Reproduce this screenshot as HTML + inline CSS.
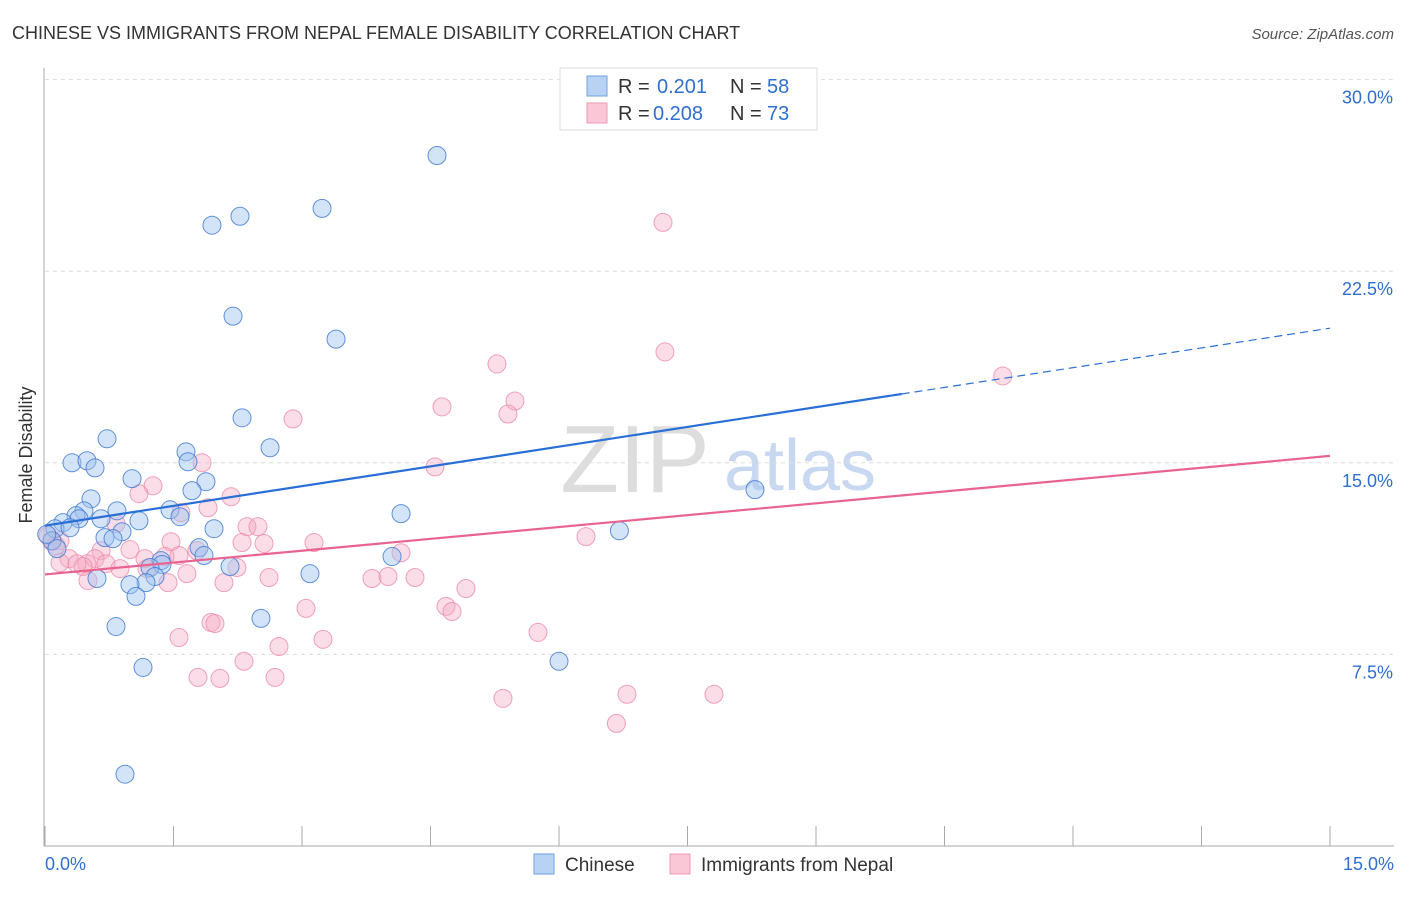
<!DOCTYPE html>
<html><head><meta charset="utf-8"><style>
body{margin:0;background:#fff;font-family:"Liberation Sans",sans-serif;}
svg text{font-family:"Liberation Sans",sans-serif;}
</style></head><body>
<svg id="chart" width="1406" height="892">
<text x="12" y="39" font-size="18" fill="#333">CHINESE VS IMMIGRANTS FROM NEPAL FEMALE DISABILITY CORRELATION CHART</text>
<text x="1394" y="39" font-size="15" fill="#555" font-style="italic" text-anchor="end">Source: ZipAtlas.com</text>
<text x="32" y="455" font-size="18" fill="#333" text-anchor="middle" transform="rotate(-90 32 455)">Female Disability</text>
<text x="635" y="492" font-size="96" fill="#ddd" font-family="Liberation Serif" text-anchor="middle">ZIP</text>
<text x="800" y="490" font-size="72" fill="#c8d8f0" text-anchor="middle">atlas</text>
<g id="grid"></g><g id="axes"></g><g id="pts"></g><g id="lines"></g>
<g>
<rect x="560" y="68" width="257" height="62" fill="#fff" stroke="#ddd"/>
<rect x="587" y="76" width="20" height="20" fill="#b8d2f4" stroke="#6fa0e0"/>
<rect x="587" y="103" width="20" height="20" fill="#f9c7d6" stroke="#ee9ab4"/>
<text x="618" y="93" font-size="20" fill="#333">R =</text>
<text x="657" y="93" font-size="20" fill="#2f6fd0">0.201</text>
<text x="730" y="93" font-size="20" fill="#333">N =</text>
<text x="767" y="93" font-size="20" fill="#2f6fd0">58</text>
<text x="618" y="120" font-size="20" fill="#333">R =</text>
<text x="653" y="120" font-size="20" fill="#2f6fd0">0.208</text>
<text x="730" y="120" font-size="20" fill="#333">N =</text>
<text x="767" y="120" font-size="20" fill="#2f6fd0">73</text>
</g>
<g>
<rect x="534" y="854" width="20" height="20" fill="#b8d2f4" stroke="#6fa0e0"/>
<text x="565" y="871" font-size="19" fill="#333">Chinese</text>
<rect x="670" y="854" width="20" height="20" fill="#f9c7d6" stroke="#ee9ab4"/>
<text x="701" y="871" font-size="19" fill="#333">Immigrants from Nepal</text>
</g>
</svg>
<script>
const yTicks=[7.5,15,22.5,30];
const yTickLabels=["7.5%","15.0%","22.5%","30.0%"];
const blueX=[4.576,3.234,2.276,1.949,2.195,3.397,2.300,0.724,1.646,2.627,0.315,0.490,0.584,1.669,1.016,1.879,1.716,0.537,0.840,1.459,1.576,0.455,0.362,0.210,0.397,0.654,1.097,0.117,0.292,0.899,1.973,0.700,0.794,0.082,0.140,1.798,1.856,1.354,1.366,1.226,2.160,1.284,1.179,0.992,0.607,1.062,3.093,4.051,4.156,6.705,8.288,2.521,0.829,6.0,1.144,0.934,0.02];
const blueY=[27.03,24.96,24.65,24.30,20.74,19.84,16.76,15.94,15.43,15.59,15.0,15.08,14.80,15.04,14.38,14.26,13.91,13.59,13.12,13.16,12.89,13.12,12.93,12.66,12.81,12.81,12.73,12.42,12.46,12.30,12.42,12.07,12.03,11.95,11.64,11.68,11.37,11.17,11.02,10.90,10.94,10.55,10.31,10.23,10.47,9.77,10.66,11.33,13.01,12.34,13.95,8.91,8.59,7.23,6.99,2.81,12.2];
const pinkX=[7.214,7.237,11.18,5.276,5.486,4.634,5.404,2.895,4.552,1.833,1.261,1.097,2.172,1.903,1.587,0.829,2.358,2.486,6.315,0.035,0.082,0.175,0.128,2.300,2.557,3.140,1.471,1.774,0.654,0.992,1.564,4.156,1.401,1.167,0.584,0.280,0.175,0.490,0.712,0.875,1.190,2.241,0.444,0.374,1.657,2.615,3.817,4.004,4.319,0.502,1.436,2.089,4.914,4.681,4.751,3.047,1.938,1.984,5.755,1.564,3.245,2.731,2.323,1.786,2.042,2.685,6.794,7.809,5.346,6.670];
const pinkY=[24.41,19.34,18.40,18.87,17.42,17.19,16.91,16.72,14.84,15.0,14.10,13.79,13.67,13.24,13.05,12.62,12.50,12.50,12.11,12.15,11.92,11.95,11.76,11.88,11.84,11.88,11.91,11.56,11.56,11.60,11.37,11.48,11.33,11.25,11.25,11.25,11.09,11.05,11.05,10.86,10.86,10.90,10.94,11.05,10.66,10.51,10.47,10.55,10.51,10.39,10.31,10.31,10.08,9.38,9.18,9.30,8.75,8.71,8.36,8.16,8.09,7.81,7.23,6.60,6.56,6.60,5.94,5.94,5.78,4.80];
const blueTrend=[12.54,20.27]; const blueSolidEnd=10.0;
const pinkTrend=[10.63,15.27];
const NS="http://www.w3.org/2000/svg";
const X=v=>45+v/15*1285, Y=v=>846-v/7.5*191.6;
function mk(t,a,p){const e=document.createElementNS(NS,t);for(const k in a)e.setAttribute(k,a[k]);p.appendChild(e);return e;}
const grid=document.getElementById('grid'),axes=document.getElementById('axes'),pts=document.getElementById('pts'),lines=document.getElementById('lines');
yTicks.forEach((t,i)=>{
 const l=mk('line',{x1:45,x2:1394,y1:Y(t),y2:Y(t),stroke:'#ddd','stroke-dasharray':'4,4'},grid);
 
 
 const tx=mk('text',{x:1393,y:Y(t)+24,'font-size':18,fill:'#2f6fd0','text-anchor':'end'},axes);
 tx.textContent=yTickLabels[i];
 
 
});
const ax=mk('line',{x1:44,x2:44,y1:68,y2:846,stroke:'#aaa'},axes);


const bx=mk('line',{x1:44,x2:1394,y1:846,y2:846,stroke:'#aaa'},axes);


for(let i=0;i<=10;i++){const t=mk('line',{x1:X(i*1.5),x2:X(i*1.5),y1:826,y2:846,stroke:'#aaa'},axes);
 
 }
[[0,'0.0%','start',45],[15,'15.0%','end',1394]].forEach(d=>{const t=mk('text',{x:d[3],y:870,'font-size':18,fill:'#2f6fd0','text-anchor':d[2]},axes);t.textContent=d[1];
 
 });
pinkX.forEach((v,i)=>{const c=mk('circle',{cx:X(v),cy:Y(pinkY[i]),r:9,fill:'rgba(246,170,195,0.4)',stroke:'rgba(236,140,170,0.8)'},pts);
 
 });
blueX.forEach((v,i)=>{const c=mk('circle',{cx:X(v),cy:Y(blueY[i]),r:9,fill:'rgba(160,196,240,0.45)',stroke:'rgba(60,120,210,0.8)'},pts);
 
 });
const by=v=>blueTrend[0]+(blueTrend[1]-blueTrend[0])*v/15;
let l1=mk('line',{x1:X(0),y1:Y(by(0)),x2:X(blueSolidEnd),y2:Y(by(blueSolidEnd)),stroke:'#2a6fd6','stroke-width':2.2},lines);


let l2=mk('line',{x1:X(blueSolidEnd),y1:Y(by(blueSolidEnd)),x2:X(15),y2:Y(by(15)),stroke:'#2a6fd6','stroke-width':1.2,'stroke-dasharray':'8,5'},lines);


let l3=mk('line',{x1:X(0),y1:Y(pinkTrend[0]),x2:X(15),y2:Y(pinkTrend[1]),stroke:'#e8648f','stroke-width':2.2},lines);


</script>
</body></html>
